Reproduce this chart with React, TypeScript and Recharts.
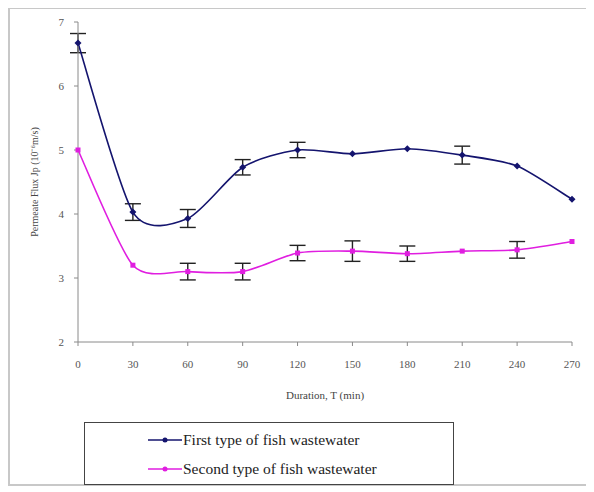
import React from 'react';
import {
  LineChart,
  Line,
  XAxis,
  YAxis,
  ErrorBar,
} from 'recharts';

// Duration (min)
const durations = [0, 30, 60, 90, 120, 150, 180, 210, 240, 270];

// Permeate flux Jp (10^-6 m/s)
const firstType = [6.67, 4.03, 3.93, 4.73, 5.0, 4.94, 5.02, 4.92, 4.75, 4.23];
const firstErr = [0.15, 0.13, 0.14, 0.12, 0.12, null, null, 0.14, null, null];

const secondType = [5.0, 3.2, 3.1, 3.1, 3.39, 3.42, 3.38, 3.42, 3.44, 3.57];
const secondErr = [null, null, 0.13, 0.13, 0.12, 0.16, 0.12, null, 0.13, null];

const xTicks = [0, 30, 60, 90, 120, 150, 180, 210, 240, 270];
const yTicks = [2, 3, 4, 5, 6, 7];

const NAVY = '#14146e';
const MAGENTA = '#e01ee0';
const FONT = "'Times New Roman', 'Liberation Serif', serif";

const chartData = durations.map((t, i) => ({
  t,
  first: firstType[i],
  firstErr: firstErr[i],
  second: secondType[i],
  secondErr: secondErr[i],
}));

// smoothed line like the spreadsheet one (bezier through every point)
const smoothCurve = (context: any) => {
  let pts: number[][] = [];
  return {
    areaStart() {},
    areaEnd() {},
    lineStart() {
      pts = [];
    },
    point(x: number, y: number) {
      pts.push([+x, +y]);
    },
    lineEnd() {
      if (!pts.length) return;
      const k = 1 / 8;
      context.moveTo(pts[0][0], pts[0][1]);
      for (let i = 0; i < pts.length - 1; i++) {
        const p0 = pts[i - 1] || pts[i];
        const p1 = pts[i];
        const p2 = pts[i + 1];
        const p3 = pts[i + 2] || pts[i + 1];
        context.bezierCurveTo(
          p1[0] + (p2[0] - p0[0]) * k,
          p1[1] + (p2[1] - p0[1]) * k,
          p2[0] - (p3[0] - p1[0]) * k,
          p2[1] - (p3[1] - p1[1]) * k,
          p2[0],
          p2[1],
        );
      }
    },
  };
};

const Diamond = (props: any) => {
  const { cx, cy, fill } = props;
  if (cx == null || cy == null) return null;
  const r = 3.5;
  return (
    <path
      d={`M${cx},${cy - r}L${cx + r},${cy}L${cx},${cy + r}L${cx - r},${cy}Z`}
      fill={fill}
    />
  );
};

const Square = (props: any) => {
  const { cx, cy, fill } = props;
  if (cx == null || cy == null) return null;
  return <rect x={cx - 2.5} y={cy - 2.5} width={5} height={5} fill={fill} />;
};

const LegendRow = ({ color, label }: { color: string; label: string }) => (
  <div style={{ display: 'flex', alignItems: 'center', height: 29 }}>
    <svg width={34} height={10} style={{ marginRight: 1 }}>
      <line x1={0} y1={5} x2={34} y2={5} stroke={color} strokeWidth={1.5} />
      <circle cx={17} cy={5} r={2.5} fill={color} />
    </svg>
    <span style={{ fontSize: 15.5, color: '#222', fontFamily: FONT }}>{label}</span>
  </div>
);

export default function App() {
  return (
    <div
      style={{
        position: 'relative',
        width: 600,
        height: 479,
        marginTop: -1,
        borderTop: '2px solid #c8c8c8',
        borderLeft: '2px solid #c8c8c8',
        borderBottom: '2px solid #c8c8c8',
        boxSizing: 'border-box',
        fontFamily: FONT,
      }}
    >
      <LineChart
        width={586}
        height={400}
        data={chartData}
        margin={{ top: 14, right: 22, left: 0, bottom: 6 }}
        style={{ position: 'absolute', left: -2, top: -1, fontFamily: FONT }}
      >
        <XAxis
          dataKey="t"
          type="number"
          domain={[0, 270]}
          ticks={xTicks}
          height={60}
          stroke="#8a8a8a"
          tickSize={4}
          tick={{ fontSize: 11, fill: '#555', fontFamily: FONT }}
          tickMargin={14}
          label={{
            value: 'Duration, T (min)',
            position: 'insideBottom',
            offset: 3,
            style: { fontSize: 11, fill: '#444', fontFamily: FONT },
          }}
        />
        <YAxis
          type="number"
          domain={[2, 7]}
          ticks={yTicks}
          width={70}
          stroke="#8a8a8a"
          tickSize={4}
          tick={{ fontSize: 11, fill: '#555', fontFamily: FONT }}
          tickMargin={10}
          label={{
            value: 'Permeate Flux Jp (10⁻⁶m/s)',
            angle: -90,
            position: 'insideLeft',
            offset: 26,
            style: { fontSize: 10, fill: '#444', fontFamily: FONT, textAnchor: 'middle' },
          }}
        />
        <Line
          dataKey="first"
          type={smoothCurve as any}
          stroke={NAVY}
          strokeWidth={1.6}
          dot={<Diamond fill={NAVY} />}
          isAnimationActive={false}
        >
          <ErrorBar dataKey="firstErr" direction="y" width={8} stroke="#222" strokeWidth={1.4} />
        </Line>
        <Line
          dataKey="second"
          type={smoothCurve as any}
          stroke={MAGENTA}
          strokeWidth={1.6}
          dot={<Square fill={MAGENTA} />}
          isAnimationActive={false}
        >
          <ErrorBar dataKey="secondErr" direction="y" width={8} stroke="#222" strokeWidth={1.4} />
        </Line>
      </LineChart>
      <div
        style={{
          position: 'absolute',
          left: 74,
          top: 413,
          width: 370,
          height: 63,
          border: '1px solid #444',
          boxSizing: 'border-box',
          padding: '2px 0 0 63px',
        }}
      >
        <LegendRow color={NAVY} label="First type of fish wastewater" />
        <LegendRow color={MAGENTA} label="Second type of fish wastewater" />
      </div>
    </div>
  );
}
